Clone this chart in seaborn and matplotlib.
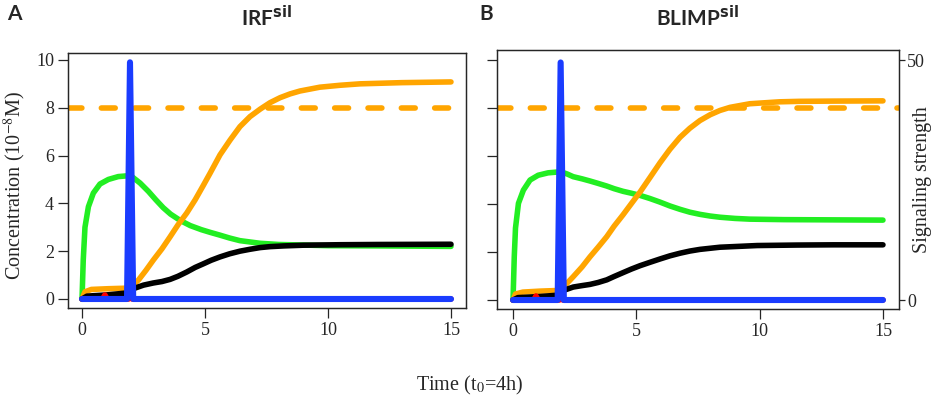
import matplotlib
matplotlib.use('Agg')
import matplotlib.pyplot as plt
import seaborn as sns

# ---- IRF silenced (panel A) ----
irf_t_green = [0, 0.05, 0.12, 0.26, 0.46, 0.73, 1.07, 1.47, 1.82, 2.05, 2.36, 2.7, 3.0,
               3.3, 3.6, 4.0, 4.4, 4.85, 5.2, 5.61, 6.0, 6.42, 7.24, 8.0, 8.86, 10.0,
               12.0, 15.0]
irf_green = [0, 1.63, 3.0, 3.86, 4.43, 4.81, 5.0, 5.12, 5.15, 5.1, 4.85, 4.5, 4.15,
             3.82, 3.55, 3.28, 3.07, 2.9, 2.79, 2.67, 2.55, 2.44, 2.33, 2.28, 2.26, 2.23,
             2.22, 2.2]

irf_t_orange = [0, 0.12, 0.38, 1.07, 1.74, 2.0, 2.3, 2.6, 2.9, 3.25, 3.58, 3.9, 4.26,
                4.6, 4.93, 5.2, 5.61, 6.02, 6.42, 6.83, 7.24, 7.64, 8.05, 8.46, 8.86,
                9.67, 10.49, 11.3, 13.0, 15.0]
irf_orange = [0, 0.3, 0.4, 0.43, 0.45, 0.5, 0.8, 1.2, 1.63, 2.1, 2.6, 3.1, 3.6,
              4.15, 4.75, 5.25, 6.03, 6.65, 7.21, 7.63, 7.94, 8.21, 8.42, 8.58, 8.7,
              8.86, 8.94, 9.0, 9.05, 9.08]

irf_t_black = [0, 0.2, 1.0, 1.8, 2.0, 2.5, 2.9, 3.25, 3.58, 3.9, 4.26, 4.6, 4.93, 5.25,
               5.61, 6.0, 6.42, 6.83, 7.24, 7.64, 8.2, 9.0, 10.5, 12.0, 15.0]
irf_black = [0, 0.12, 0.17, 0.25, 0.4, 0.58, 0.67, 0.73, 0.82, 0.95, 1.13, 1.32, 1.47,
             1.62, 1.76, 1.89, 2.0, 2.08, 2.15, 2.19, 2.22, 2.25, 2.27, 2.28, 2.29]

irf_t_red = [0, 0.84, 0.93, 1.02, 1.9, 1.97, 2.04, 15.0]
irf_red = [0, 0, 0.17, 0, 0, 0.1, 0, 0]

irf_t_signal = [0, 1.83, 1.95, 2.08, 15.0]
irf_signal = [0, 0, 49.5, 0, 0]

# ---- BLIMP silenced (panel B) ----
blimp_t_green = [0, 0.05, 0.1, 0.22, 0.42, 0.69, 1.02, 1.42, 1.76, 1.93, 2.2, 2.44,
                 2.8, 3.12, 3.45, 3.8, 4.1, 4.46, 4.8, 5.15, 5.55, 5.96, 6.36, 6.77,
                 7.17, 7.58, 7.99, 8.39, 9.0, 9.6, 11.0, 13.0, 15.0]
blimp_green = [0, 1.8, 3.0, 4.03, 4.58, 5.0, 5.2, 5.3, 5.33, 5.35, 5.25, 5.14,
               5.05, 4.96, 4.86, 4.75, 4.64, 4.53, 4.45, 4.36, 4.23, 4.08, 3.92, 3.78,
               3.66, 3.57, 3.5, 3.45, 3.4, 3.37, 3.35, 3.34, 3.33]

blimp_t_orange = [0, 0.1, 0.4, 1.09, 1.9, 2.1, 2.44, 2.8, 3.12, 3.45, 3.8, 4.1, 4.46,
                  4.8, 5.15, 5.55, 5.96, 6.36, 6.77, 7.17, 7.58, 7.99, 8.39, 8.8, 9.6,
                  10.8, 11.6, 13.0, 15.0]
blimp_orange = [0, 0.25, 0.33, 0.37, 0.4, 0.6, 0.97, 1.38, 1.8, 2.2, 2.64, 3.08, 3.55,
                4.02, 4.5, 5.1, 5.72, 6.28, 6.78, 7.16, 7.48, 7.72, 7.9, 8.03, 8.18,
                8.26, 8.28, 8.29, 8.3]

blimp_t_black = [0, 0.2, 1.0, 1.8, 2.05, 2.44, 2.8, 3.12, 3.45, 3.8, 4.1, 4.46, 4.8,
                 5.15, 5.55, 5.96, 6.36, 6.77, 7.17, 7.58, 8.39, 9.9, 11.5, 13.0, 15.0]
blimp_black = [0, 0.1, 0.14, 0.2, 0.4, 0.54, 0.6, 0.65, 0.73, 0.84, 0.98, 1.14, 1.29,
               1.43, 1.57, 1.71, 1.84, 1.95, 2.04, 2.11, 2.2, 2.27, 2.29, 2.3, 2.3]

blimp_t_red = [0, 0.84, 0.93, 1.02, 1.88, 1.95, 2.02, 15.0]
blimp_red = [0, 0, 0.17, 0, 0, 0.1, 0, 0]

blimp_t_signal = [0, 1.81, 1.93, 2.06, 15.0]
blimp_signal = [0, 0, 49.5, 0, 0]

threshold = 8
x_ticks = [0, 5, 10, 15]
y_ticks = [0, 2, 4, 6, 8, 10]
signal_ticks = [0, 50]

sns.set_style('ticks')
plt.rcParams['font.family'] = ['Liberation Serif', 'DejaVu Serif']
plt.rcParams['axes.linewidth'] = 0.9

GREEN = '#22ee22'
ORANGE = '#ffa500'
BLUE = '#1a3cff'
LW = 4.0
line_kw = dict(lw=LW, solid_capstyle='round', solid_joinstyle='round')

fig = plt.figure(figsize=(9.41, 4.09), dpi=100)
ax_a = fig.add_axes([68 / 941, 101 / 409, 398 / 941, 255 / 409])
ax_b = fig.add_axes([497 / 941, 100 / 409, 402 / 941, 259 / 409])

panels = [
    (ax_a, irf_t_green, irf_green, irf_t_orange, irf_orange, irf_t_black, irf_black,
     irf_t_red, irf_red, irf_t_signal, irf_signal, (-0.57, 15.61), (-0.377, 10.29)),
    (ax_b, blimp_t_green, blimp_green, blimp_t_orange, blimp_orange, blimp_t_black,
     blimp_black, blimp_t_red, blimp_red, blimp_t_signal, blimp_signal,
     (-0.65, 15.65), (-0.375, 10.42)),
]

twins = []
for (ax, tg, g, to, o, tb, b, tr, r, ts, s, xlim, ylim) in panels:
    ax.axhline(threshold, color=ORANGE, lw=LW, dashes=(2.5, 3.5),
               dash_capstyle='round', zorder=1)
    sns.lineplot(x=tg, y=g, ax=ax, color=GREEN, **line_kw)
    sns.lineplot(x=to, y=o, ax=ax, color=ORANGE, **line_kw)
    sns.lineplot(x=tb, y=b, ax=ax, color='black', **line_kw)
    sns.lineplot(x=tr, y=r, ax=ax, color='red', **line_kw)
    ax.set_xlim(*xlim)
    ax.set_ylim(*ylim)
    ax.set_xticks(x_ticks)
    ax.set_yticks(y_ticks)
    ax.set_xlabel('')
    ax.set_ylabel('')
    ax.tick_params(axis='both', length=7, width=0.9, labelsize=13, pad=3)
    for sp in ax.spines.values():
        sp.set_visible(True)
        sp.set_color('#222222')

    tw = ax.twinx()
    sns.lineplot(x=ts, y=s, ax=tw, color=BLUE, lw=LW + 0.4, solid_capstyle='round',
                 solid_joinstyle='round')
    tw.set_ylim(ylim[0] * 5, ylim[1] * 5)
    tw.set_ylabel('')
    twins.append(tw)

ax_b.tick_params(axis='y', labelleft=False)
twins[0].set_yticks([])
twins[0].tick_params(axis='y', length=0)
twins[1].set_yticks(signal_ticks)
twins[1].tick_params(axis='y', length=4, width=0.9, labelsize=13, pad=2)

fig.text(15 / 941, 1 - 185 / 409, 'Concentration (10$^{-8}$M)', rotation=90,
         ha='center', va='center', fontsize=14.5, math_fontfamily='stix')
fig.text(922 / 941, 1 - 180 / 409, 'Signaling strength', rotation=90,
         ha='center', va='center', fontsize=14.5)
fig.text(470 / 941, 1 - 385 / 409, 'Time (t$_0$=4h)', ha='center', va='center',
         fontsize=14.5, math_fontfamily='stix')

fig.text(267 / 941, 1 - 18 / 409, r'IRF$^{\mathbf{sil}}$', ha='center', va='center',
         fontsize=15, fontweight='bold', family='Lato', math_fontfamily='dejavusans')
fig.text(698 / 941, 1 - 18 / 409, r'BLIMP$^{\mathbf{sil}}$', ha='center', va='center',
         fontsize=15, fontweight='bold', family='Lato', math_fontfamily='dejavusans')
fig.text(14 / 941, 1 - 14 / 409, 'A', ha='center', va='center', fontsize=15,
         fontweight='bold', family='Lato')
fig.text(486 / 941, 1 - 14 / 409, 'B', ha='center', va='center', fontsize=15,
         fontweight='bold', family='Lato')

fig.savefig('out.png', dpi=100)
